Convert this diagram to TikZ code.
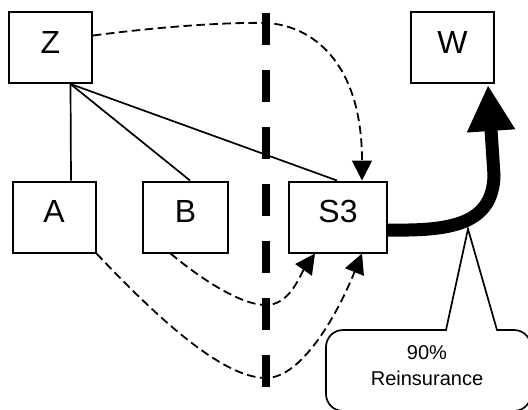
\documentclass[tikz,border=0pt]{standalone}
\usepackage{fontspec}
\setmainfont{Liberation Sans}
\usetikzlibrary{arrows.meta,calc}
\begin{document}
\begin{tikzpicture}[x=1pt,y=1pt,
 box/.style={draw,line width=2pt,minimum width=83pt,minimum height=71pt,inner sep=0pt,font=\fontsize{32}{32}\selectfont,text height=23pt,text depth=12pt},
 tie/.style={line width=1.7pt},
 flow/.style={line width=1.8pt,dash pattern=on 8.5pt off 4.5pt,-{Triangle[length=20pt,width=20pt]}},
 divider/.style={line width=7.5pt,dash pattern=on 32pt off 25pt},
 big/.style={line width=13pt,-{Triangle[length=46pt,width=45pt]}},
 callout/.style={draw,line width=1.7pt,fill=white},
 note/.style={font=\fontsize{20}{20}\selectfont,anchor=base,inner sep=0pt}]
\useasboundingbox (0,0) rectangle (528,-410);
\clip (0,0) rectangle (528,-410);
% boxes
\node[box] (Z) at (50.5,-47.5) {Z};
\node[box] (W) at (452.5,-47.5) {W};
\node[box] (A) at (54,-217) {A};
\node[box,minimum width=85pt] (B) at (185.5,-217) {B};
\node[box,minimum width=98pt] (S3) at (338,-217) {S3};
% divider
\coordinate (dtop) at (266,-13);
\coordinate (dbot) at (266,-387);
\draw[divider] (dtop) -- (dbot);
\coordinate (zmid) at (266,-23);
\coordinate (bmid) at (266,-305);
\coordinate (amid) at (266,-378);
% ownership lines
\draw[tie] ([xshift=20pt]Z.south) -- ([xshift=17pt]A.north);
\draw[tie] ([xshift=20pt]Z.south) -- ([xshift=4.5pt]B.north);
\draw[tie] ([xshift=20pt]Z.south) -- ([xshift=-1pt]S3.north);
% dashed flows
\draw[flow] ([yshift=12pt]Z.east) .. controls (150,-28) and (220,-22) .. (zmid)
  .. controls (310,-25) and (362,-60) .. ([xshift=24pt]S3.north);
\draw[flow] ([xshift=-15pt]B.south) .. controls (200,-278) and (240,-305) .. (bmid)
  .. controls (290,-305) and (300,-275) .. ([xshift=-23pt]S3.south);
\draw[flow] (A.south east) .. controls (150,-310) and (220,-378) .. (amid)
  .. controls (300,-378) and (335,-320) .. ([xshift=24pt]S3.south);
% callout
\coordinate (apex) at (468,-229);
\draw[callout] (446,-330) -- (apex) -- (497,-330) -- (514,-330)
  arc[start angle=90,end angle=0,radius=17] -- (531,-394)
  arc[start angle=0,end angle=-90,radius=17] -- (343,-411)
  arc[start angle=270,end angle=180,radius=17] -- (326,-347)
  arc[start angle=180,end angle=90,radius=17] -- cycle;
\node[note] (n1) at (427,-359) {90\%};
\node[note] (n2) at (427,-385) {Reinsurance};
% reinsurance arrow
\coordinate (bend) at (494,-175);
\draw[big] ([yshift=-13pt]S3.east) .. controls (450,-231) and (493,-225) .. (bend) -- ([xshift=35.5pt,yshift=-1pt]W.south);
\end{tikzpicture}
\end{document}
